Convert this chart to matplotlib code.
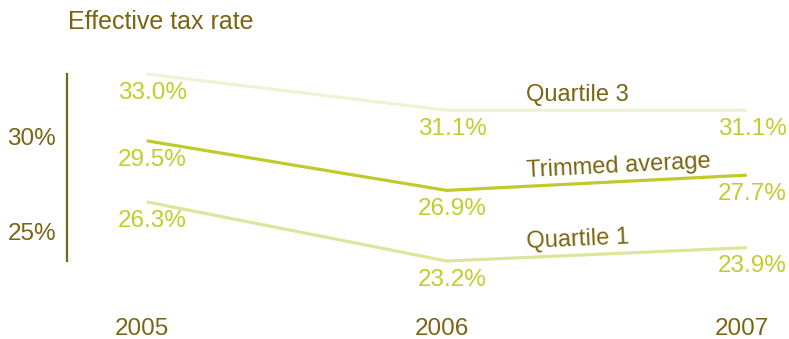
import matplotlib
matplotlib.use("Agg")
import matplotlib.pyplot as plt
import matplotlib.transforms as mtransforms
import numpy as np

years = [2005, 2006, 2007]
quartile3 = [33.0, 31.1, 31.1]
trimmed = [29.5, 26.9, 27.7]
quartile1 = [26.3, 23.2, 23.9]
series_names = ["Quartile 3", "Trimmed average", "Quartile 1"]
ytick_vals = [30, 25]
ytick_labels = ["30%", "25%"]
title = "Effective tax rate"

OLIVE = "#7a6512"
VALC = "#c2cd2c"
line_colors = ["#eff2d4", "#c0ca2a", "#dfe49b"]

plt.rcParams['font.family'] = ['Liberation Sans', 'DejaVu Sans']

W, H = 789, 339
fig = plt.figure(figsize=(W / 100, H / 100), dpi=100)
# axes in pixel geometry
left_px, right_px, top_px, bot_px = 66.7, 782, 60, 300
ax = fig.add_axes([left_px / W, 1 - bot_px / H, (right_px - left_px) / W, (bot_px - top_px) / H])

px_per_year = 300.0
px_per_pct = 187.0 / 9.8
x0_px, y33_px = 146.7, 74.0
ax.set_xlim(2005 - (x0_px - left_px) / px_per_year, 2005 + (right_px - x0_px) / px_per_year)
ax.set_ylim(33 - (bot_px - y33_px) / px_per_pct, 33 + (y33_px - top_px) / px_per_pct)

for s in ["top", "right", "bottom"]:
    ax.spines[s].set_visible(False)
ax.spines["left"].set_color(OLIVE)
ax.spines["left"].set_linewidth(1.6)
ax.spines["left"].set_bounds(min(quartile1), max(quartile3))

ax.set_yticks(ytick_vals)
ax.set_yticklabels(ytick_labels)
ax.set_xticks(years)
ax.set_xticklabels([str(y) for y in years])
ax.tick_params(axis="y", length=0, pad=7.5, labelsize=17.5, labelcolor=OLIVE)
ax.tick_params(axis="x", length=0, pad=13, labelsize=17.5, labelcolor=OLIVE)
for lab in ax.get_yticklabels():
    lab.set_transform(lab.get_transform() + mtransforms.ScaledTranslation(0, -5 / 100, fig.dpi_scale_trans))
for lab in ax.get_xticklabels():
    lab.set_transform(lab.get_transform() + mtransforms.ScaledTranslation(-5 / 100, 0, fig.dpi_scale_trans))

all_series = [quartile3, trimmed, quartile1]
label_x = 2006.266
for vals, name, col in zip(all_series, series_names, line_colors):
    ax.plot(years, vals, color=col, lw=2.3, solid_capstyle="butt", solid_joinstyle="miter")
    for x, v in zip(years, vals):
        ax.annotate(f"{v:.1f}%", (x, v), xytext=(4, -13.5), textcoords="offset points",
                    ha="center", va="center", fontsize=17.5, color=VALC)
    # series label along 2006-2007 segment
    y_at = np.interp(label_x, years, vals)
    p1 = ax.transData.transform((years[1], vals[1]))
    p2 = ax.transData.transform((years[2], vals[2]))
    ang = np.degrees(np.arctan2(p2[1] - p1[1], p2[0] - p1[0]))
    ax.annotate(name, (label_x, y_at), xytext=(0, 6.5), textcoords="offset points",
                ha="left", va="baseline", rotation=ang, rotation_mode="anchor",
                fontsize=17, color=OLIVE)

fig.text(68 / W, 1 - 22 / H, title, ha="left", va="center", fontsize=18, color=OLIVE)

fig.savefig("out.png", dpi=100)
